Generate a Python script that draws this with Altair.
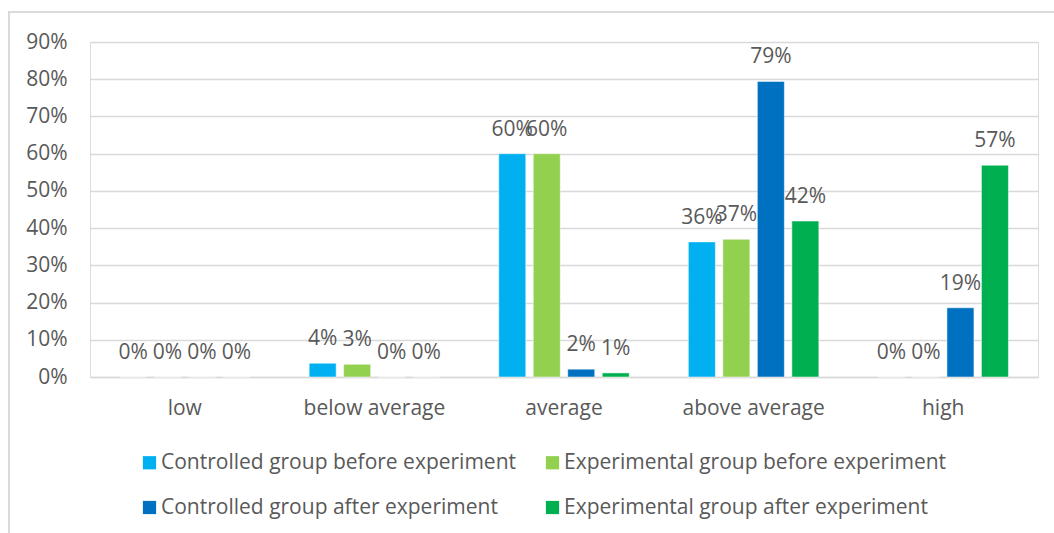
import altair as alt
import pandas as pd

categories = ["low", "below average", "average", "above average", "high"]
series = [
    "Controlled group before experiment",
    "Experimental group before experiment",
    "Controlled group after experiment",
    "Experimental group after experiment",
]
colors = ["#00B0F0", "#92D050", "#0070C0", "#00B050"]

ctrl_before = [0.0, 0.037, 0.60, 0.363, 0.0]
exp_before = [0.0, 0.034, 0.60, 0.370, 0.0]
ctrl_after = [0.0, 0.0, 0.021, 0.794, 0.186]
exp_after = [0.0, 0.0, 0.011, 0.419, 0.569]

rows = []
for s, vals in zip(series, [ctrl_before, exp_before, ctrl_after, exp_after]):
    for c, v in zip(categories, vals):
        rows.append({"category": c, "series": s, "value": v})
df = pd.DataFrame(rows)

# legend order (filled column by column) so that rows read like the reference
legend_order = [series[0], series[2], series[1], series[3]]
legend_colors = [colors[0], colors[2], colors[1], colors[3]]

FONT = "Open Sans"
GRAY = "#595959"
FS = 21

x = alt.X("category:N", sort=categories, title=None,
          scale=alt.Scale(paddingInner=0, paddingOuter=0),
          axis=alt.Axis(labelAngle=0, labelFontSize=FS, labelColor=GRAY, labelFont=FONT,
                        ticks=False, domainColor="#d9d9d9", domainWidth=1.5,
                        labelPadding=20, grid=False))
xo = alt.XOffset("series:N", sort=series,
                 scale=alt.Scale(paddingInner=0.217, paddingOuter=0.857))
y = alt.Y("value:Q", title=None,
          scale=alt.Scale(domain=[0, 0.9], nice=False),
          axis=alt.Axis(format=".0%", values=[0, 0.1, 0.2, 0.3, 0.4, 0.5, 0.6, 0.7, 0.8, 0.9],
                        labelOverlap=False, labelFontSize=FS, labelColor=GRAY, labelFont=FONT,
                        ticks=False, domain=False, labelPadding=23,
                        gridColor="#d9d9d9", gridWidth=1.5))

color = alt.Color("series:N",
                  scale=alt.Scale(domain=legend_order, range=legend_colors),
                  legend=alt.Legend(title=None, orient="none", legendX=49, legendY=410,
                                    columns=2, columnPadding=25, rowPadding=23,
                                    symbolType="square", symbolSize=175,
                                    symbolStrokeWidth=0, labelFontSize=FS,
                                    labelFont=FONT, labelColor=GRAY, labelOffset=1,
                                    labelLimit=500))

bars = alt.Chart(df).mark_bar(stroke="white", strokeWidth=0.5).encode(
    x=x, xOffset=xo, y=y, color=color)

labels = alt.Chart(df).mark_text(fontSize=FS, font=FONT, color=GRAY, dy=-18,
                                 baseline="alphabetic").encode(
    x=x, xOffset=xo, y=y, text=alt.Text("value:Q", format=".0%"))

border_top = alt.Chart(df).mark_rule(color="#d9d9d9", strokeWidth=2).encode(
    x=alt.value(-81), x2=alt.value(970), y=alt.value(-30))
border_left = alt.Chart(df).mark_rule(color="#d9d9d9", strokeWidth=2).encode(
    x=alt.value(-81), y=alt.value(-31), y2=alt.value(500))

chart = alt.layer(border_top, border_left, bars, labels).properties(
    width=948, height=335,
    autosize=alt.AutoSizeParams(type="none"),
    padding={"left": 90, "top": 42, "right": 16, "bottom": 156},
).configure_view(stroke=None).configure(background="white")

chart.save("out.html", embed_options={"renderer": "svg", "actions": False})
